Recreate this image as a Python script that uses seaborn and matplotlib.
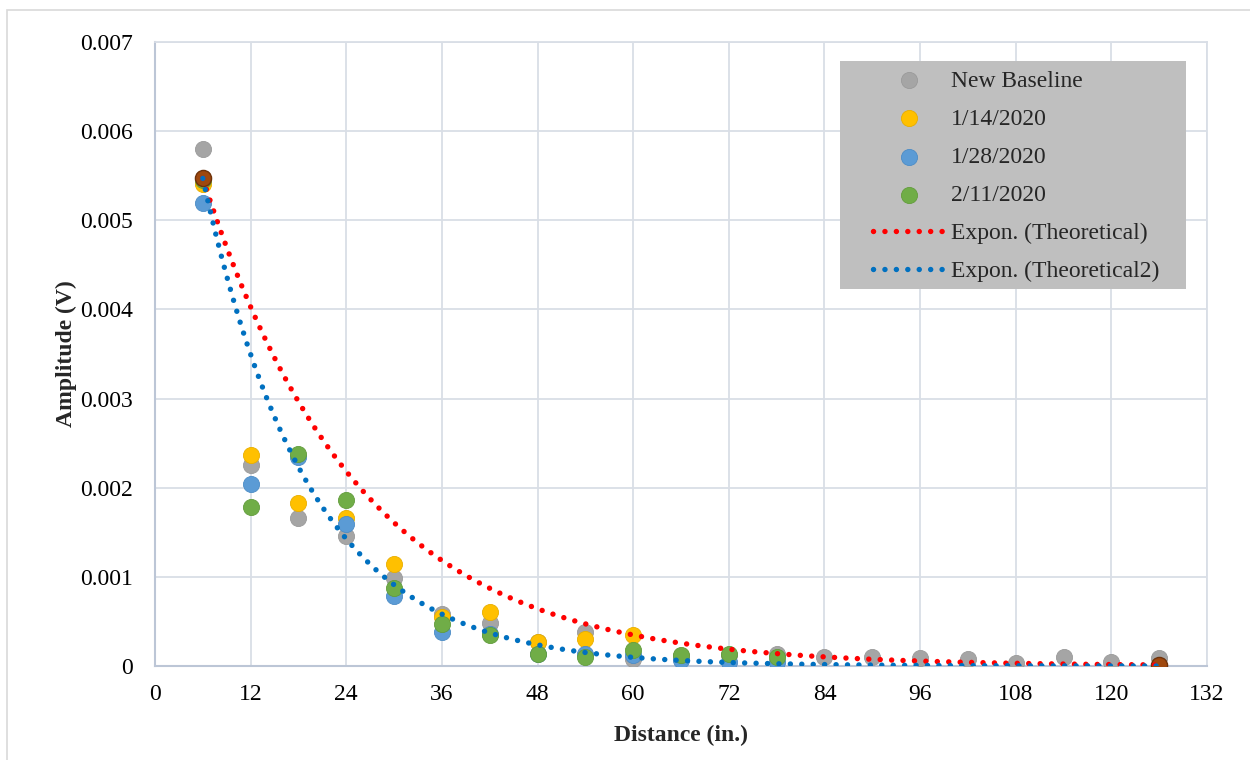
import numpy as np
import pandas as pd
import seaborn as sns
import matplotlib.pyplot as plt
from matplotlib.patches import Rectangle

# distances (in.)
distance = [6, 12, 18, 24, 30, 36, 42, 48, 54, 60, 66, 72, 78,
            84, 90, 96, 102, 108, 114, 120, 126]

new_baseline = [0.00580, 0.00225, 0.00166, 0.00146, 0.00099, 0.00058, 0.00048,
                0.00027, 0.00038, 0.00008, 0.00011, 0.00012, 0.00013,
                0.00010, 0.000105, 0.000086, 0.000075, 0.00003, 0.000097,
                0.000048, 0.000095]
jan14 = [0.00541, 0.00237, 0.00183, 0.00166, 0.00114, 0.00055, 0.00061,
         0.00027, 0.00030, 0.00035]
jan28 = [0.00519, 0.00204, 0.00234, 0.00159, 0.00078, 0.00038, 0.00036,
         0.00013, 0.00014, 0.00012, 0.00007, 0.00005, 0.00004]
feb11 = [0.00545, 0.00178, 0.00238, 0.00186, 0.00087, 0.00047, 0.00035,
         0.00014, 0.00010, 0.00018, 0.00012, 0.00014, 0.00010]

theo_x = [6, 126]
theoretical = [0.00547, 0.000012]
theoretical2 = [0.00547, 0.0000007]

x_ticks = [0, 12, 24, 36, 48, 60, 72, 84, 96, 108, 120, 132]
y_ticks = [0, 0.001, 0.002, 0.003, 0.004, 0.005, 0.006, 0.007]
y_tick_labels = ["0", "0.001", "0.002", "0.003", "0.004", "0.005", "0.006", "0.007"]

sns.set_style("white")
plt.rcParams['font.family'] = ['Liberation Serif', 'DejaVu Serif']

fig = plt.figure(figsize=(12.5, 7.6), dpi=100)
ax = fig.add_axes([155 / 1250, 1 - 666 / 760, (1207 - 155) / 1250, (666 - 42) / 760])

series = [
    ("New Baseline", new_baseline, "#A5A5A5", "#9A9A9A"),
    ("1/14/2020", jan14, "#FFC000", "#E8AE00"),
    ("1/28/2020", jan28, "#5B9BD5", "#4C8CC6"),
    ("2/11/2020", feb11, "#70AD47", "#629C3C"),
]
for name, vals, col, edge in series:
    df = pd.DataFrame({"Distance": distance[:len(vals)], "Amplitude": vals})
    sns.scatterplot(data=df, x="Distance", y="Amplitude", ax=ax, s=135,
                    color=col, edgecolor=edge, linewidth=0.6, label=name,
                    zorder=3)

theo_df = pd.DataFrame({"Distance": theo_x, "Amplitude": theoretical})
sns.scatterplot(data=theo_df, x="Distance", y="Amplitude", ax=ax, s=135,
                color="#9E480E", edgecolor="#6E320A", linewidth=1,
                label="_nolegend_", zorder=3)

# exponential trendlines fitted to the theoretical points
x_fit = np.linspace(theo_x[0], theo_x[-1], 300)
dot = (0, (0.01, 2.1))
for yvals, col, name in [(theoretical, "#FF0000", "Expon. (Theoretical)"),
                         (theoretical2, "#0070C0", "Expon. (Theoretical2)")]:
    b, a = np.polyfit(theo_x, np.log(yvals), 1)
    ax.plot(x_fit, np.exp(a + b * x_fit), color=col, lw=3.9, linestyle=dot,
            dash_capstyle="round", label=name, zorder=4)

ax.set_xlim(0, 132)
ax.set_ylim(0, 0.007)
ax.set_xticks(x_ticks)
ax.set_xticklabels([str(t) for t in x_ticks])
ax.set_yticks(y_ticks)
ax.set_yticklabels(y_tick_labels)
ax.tick_params(length=0, labelsize=17, colors="black")
ax.tick_params(axis="y", pad=16)
ax.tick_params(axis="x", pad=13)
ax.grid(True, color="#D9DEE6", lw=1.3)
ax.set_axisbelow(True)
for side in ["left", "bottom"]:
    ax.spines[side].set_color("#BCC6D6")
    ax.spines[side].set_linewidth(1.5)
for side in ["top", "right"]:
    ax.spines[side].set_color("#D9DEE6")
    ax.spines[side].set_linewidth(1.3)

ax.set_xlabel("Distance (in.)", fontsize=17, fontweight="bold", labelpad=14)
ax.set_ylabel("Amplitude (V)", fontsize=17, fontweight="bold", labelpad=2)

# legend background box
ax.add_patch(Rectangle((840 / 1250, 1 - 289 / 760), 346 / 1250, 228 / 760,
                       transform=fig.transFigure, facecolor="#BFBFBF",
                       edgecolor="none", zorder=4.9, clip_on=False))

handles, labels = ax.get_legend_handles_labels()
leg = ax.legend(handles, labels, loc="upper left",
                bbox_to_anchor=(866 / 1250, 1 - 63 / 760),
                bbox_transform=fig.transFigure, fontsize=17, frameon=False,
                handlelength=3.0, handletextpad=0.3,
                labelspacing=0.7, borderpad=0.3, borderaxespad=0)

fig.patches.append(Rectangle((7 / 1250, -0.1), 1.2, 1.1 - 10 / 760,
                             transform=fig.transFigure, fill=False,
                             edgecolor="#D9D9D9", lw=1.2))

fig.savefig("out.png", dpi=100)
